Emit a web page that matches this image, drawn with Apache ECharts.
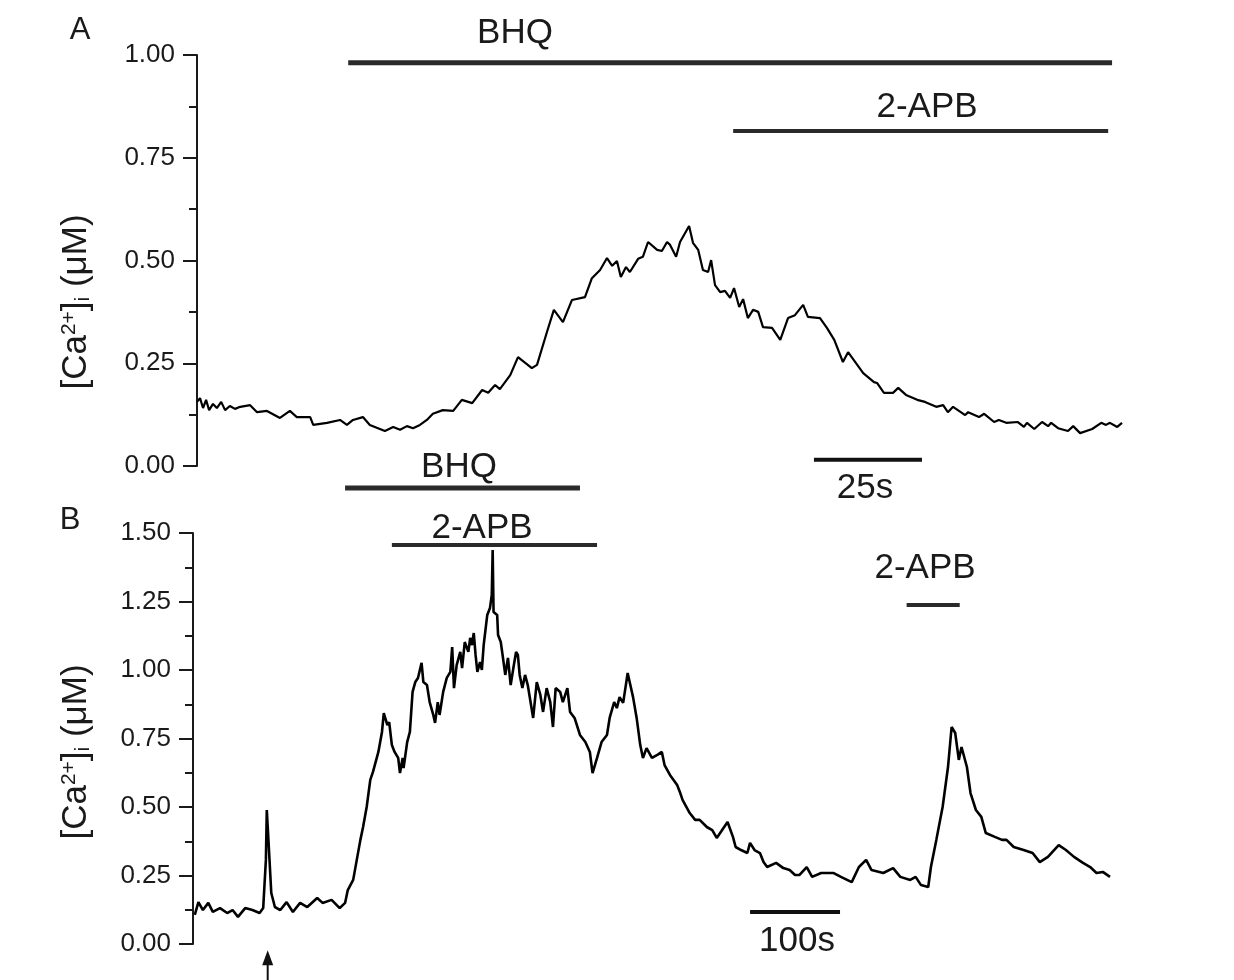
<!DOCTYPE html>
<html><head><meta charset="utf-8">
<script src="https://cdn.jsdelivr.net/npm/echarts@6/dist/echarts.min.js"></script>
<style>html,body{margin:0;padding:0;background:#fff}#c{width:1234px;height:980px}</style>
</head><body><div id="c"></div>
<script>
// ---------- Panel A data (time in s, [Ca2+]i in µM) ----------
const timeA = [0,0.7,1.4,2.1,2.8,3.7,4.6,5.6,6.5,7.6,8.8,10.0,12.3,13.9,16.2,19.2,21.5,23.1,26.2,26.9,30.1,33.1,34.7,36.1,38.4,40.0,43.5,45.4,47.0,48.6,50.0,51.6,53.2,54.6,56.9,59.3,61.3,63.7,66.0,67.4,69.0,70.1,72.5,74.3,77.5,78.7,81.0,82.6,84.7,86.8,89.8,91.4,93.3,94.9,96.1,97.2,98.1,99.3,100.2,102.1,103.2,104.4,106.5,107.6,108.8,109.5,110.9,111.8,113.9,114.8,116.0,117.1,118.3,119.0,119.9,121.1,122.2,123.4,124.3,125.5,126.4,127.5,128.7,129.9,131.0,133.1,135.0,136.8,138.4,140.3,141.4,144.2,145.8,147.5,149.5,150.7,154.2,156.7,157.4,159.0,161.1,162.3,164.1,166.7,168.5,171.1,172.7,173.8,175.0,177.8,178.5,181.0,182.2,184.5,185.6,187.3,190.0,191.4,192.1,193.8,195.6,197.0,197.7,199.3,201.6,202.8,204.4,207.2,209.3,210.4,211.3,213.0,214.1];
const caA = [0.156,0.165,0.141,0.161,0.136,0.151,0.141,0.156,0.136,0.146,0.139,0.144,0.148,0.131,0.134,0.117,0.134,0.119,0.119,0.100,0.105,0.112,0.100,0.112,0.119,0.100,0.085,0.095,0.088,0.097,0.092,0.100,0.112,0.127,0.136,0.134,0.161,0.153,0.185,0.178,0.197,0.187,0.221,0.265,0.238,0.246,0.326,0.380,0.350,0.404,0.411,0.457,0.477,0.506,0.487,0.499,0.460,0.484,0.472,0.504,0.509,0.545,0.526,0.523,0.545,0.538,0.509,0.545,0.584,0.543,0.526,0.477,0.472,0.501,0.440,0.423,0.426,0.409,0.433,0.387,0.406,0.360,0.380,0.375,0.338,0.336,0.307,0.360,0.367,0.392,0.363,0.360,0.336,0.307,0.253,0.277,0.226,0.204,0.202,0.178,0.178,0.190,0.173,0.161,0.156,0.144,0.148,0.131,0.144,0.124,0.131,0.119,0.127,0.107,0.112,0.105,0.107,0.095,0.105,0.090,0.107,0.097,0.105,0.092,0.085,0.097,0.080,0.090,0.105,0.100,0.105,0.095,0.105];

// ---------- Panel B data ----------
const timeB = [2,6,11,17,22,30,38,44,50,58,66,74,78,81,82,84,87,91,97,104,111,119,127,138,144,154,163,169,172,178,182,186,189,193,197,
  200,206,210,212,216,218,221,224,228,230,233,234,238,241,244,247,250,254,256,260,263,267,269,272,274,278,282,286,288,290,293,297,299,302,306,308,310,312,314,316,319,321,323,327,330,332,333,334,338,339,342,344,347,350,353,356,359,361,363,366,369,372,378,382,386,389,393,397,400,403,408,411,416,419,424,430,436,441,444,449,454,460,463,468,471,474,478,481,483,486,489,493,497,500,504,510,516,521,524,530,538,541,
  544,552,558,563,571,577,582,588,594,600,603,609,616,619,624,630,634,638,648,656,663,669,674,682,688,698,712,720,732,740,748,754,767,778,786,797,803,809,817,820,826,833,839,843,847,851,854,860,864,870,876,881,891,899,904,912,923,933,941,950,962,970,979,989,997,1004,1011,1019];
const caB = [0.106,0.153,0.124,0.150,0.117,0.131,0.113,0.124,0.099,0.131,0.124,0.113,0.131,0.307,0.489,0.369,0.186,0.135,0.124,0.153,0.117,0.150,0.135,0.168,0.150,0.161,0.131,0.150,0.197,0.234,0.307,0.380,0.427,0.500,0.599,
  0.628,0.701,0.774,0.843,0.799,0.810,0.726,0.701,0.679,0.624,0.679,0.642,0.737,0.774,0.920,0.956,0.971,1.026,0.956,0.945,0.883,0.836,0.807,0.883,0.836,0.920,0.971,0.993,1.084,0.934,1.018,1.066,1.007,1.102,1.066,1.117,1.091,1.135,1.055,0.993,1.029,1.000,1.091,1.201,1.226,1.274,1.438,1.212,1.201,1.128,1.102,1.055,0.982,1.044,0.945,1.007,1.066,1.055,0.982,0.934,0.982,0.945,0.825,0.956,0.909,0.847,0.934,0.883,0.792,0.934,0.920,0.883,0.934,0.847,0.825,0.763,0.737,0.701,0.624,0.679,0.737,0.763,0.825,0.883,0.861,0.901,0.880,0.945,0.989,0.945,0.901,0.825,0.726,0.679,0.715,0.679,0.690,0.701,0.653,0.617,0.580,0.555,
  0.526,0.478,0.453,0.453,0.427,0.416,0.387,0.416,0.445,0.391,0.354,0.343,0.332,0.369,0.343,0.332,0.299,0.281,0.296,0.277,0.270,0.252,0.252,0.281,0.245,0.259,0.259,0.245,0.226,0.281,0.307,0.270,0.259,0.277,0.245,0.234,0.245,0.215,0.208,0.281,0.380,0.500,0.646,0.792,0.770,0.672,0.719,0.646,0.551,0.489,0.464,0.405,0.391,0.380,0.380,0.354,0.343,0.332,0.299,0.318,0.361,0.343,0.318,0.296,0.281,0.259,0.263,0.245];

// ---------- tick labels ----------
const yTicksA = ['0.00','0.25','0.50','0.75','1.00'];
const yTicksB = ['0.00','0.25','0.50','0.75','1.00','1.25','1.50'];

// ---------- drug application periods (s) ----------
const drugsA = [{name:'BHQ', from:35.0, to:211.8},{name:'2-APB', from:124.1, to:210.9}];
const drugsB = [{name:'BHQ', from:169, to:430},{name:'2-APB', from:221, to:449},{name:'2-APB', from:793, to:852}];
const scaleBarA = {label:'25s', from:142.8, len:25};
const scaleBarB = {label:'100s', from:619, len:100};
const stimulusB = 83;

// ---------- layout ----------
const FONT = "'Liberation Sans', Arial, Helvetica, sans-serif";
const INK = '#1a1a1a';
const drugLevelA = [0.981, 0.815];
const drugLevelB = [1.664, 1.456, 1.237];
const drugWidthA = [5, 4];
const drugWidthB = [5, 4, 4];

function yAxisCfg(gridIndex, max, ticks){
  return {
    gridIndex, type:'value', min:0, max, interval:0.25,
    axisLine:{show:true, lineStyle:{color:INK, width:2}},
    axisTick:{show:true, inside:false, length:14, lineStyle:{color:INK, width:2}},
    minorTick:{show:true, splitNumber:2, length:8, lineStyle:{color:INK, width:2}},
    splitLine:{show:false}, minorSplitLine:{show:false},
    axisLabel:{margin:22, fontSize:26, color:INK, fontFamily:FONT,
      formatter:(v)=>ticks[Math.round(v/0.25)]}
  };
}
function xAxisCfg(gridIndex, max){
  return {gridIndex, type:'value', min:0, max, show:false};
}
function seg(xi, yi, data, width, extra){
  return Object.assign({type:'line', xAxisIndex:xi, yAxisIndex:yi, data, symbol:'none',
    clip:false, silent:true, animation:false,
    lineStyle:{color:'#2a2a2a', width, cap:'butt'}}, extra||{});
}

const series = [
  {type:'line', xAxisIndex:0, yAxisIndex:0, data:timeA.map((t,i)=>[t,caA[i]]), symbol:'none',
   lineStyle:{color:'#000', width:2.2}, animation:false},
  {type:'line', xAxisIndex:1, yAxisIndex:1, data:timeB.map((t,i)=>[t,caB[i]]), symbol:'none',
   lineStyle:{color:'#000', width:2.6}, animation:false}
];
drugsA.forEach((d,i)=>series.push(seg(0,0,[[d.from,drugLevelA[i]],[d.to,drugLevelA[i]]],drugWidthA[i])));
drugsB.forEach((d,i)=>series.push(seg(1,1,[[d.from,drugLevelB[i]],[d.to,drugLevelB[i]]],drugWidthB[i])));
series.push(seg(0,0,[[scaleBarA.from,0.015],[scaleBarA.from+scaleBarA.len,0.015]],4,{lineStyle:{color:'#111',width:4}}));
series.push(seg(1,1,[[scaleBarB.from,0.117],[scaleBarB.from+scaleBarB.len,0.117]],4,{lineStyle:{color:'#111',width:4}}));
// stimulus arrow
series.push(seg(1,1,[{value:[stimulusB,-0.135],symbol:'none'},{value:[stimulusB,-0.05],symbol:'triangle',symbolSize:[11,15]}],2,
  {symbol:'none', showSymbol:true, itemStyle:{color:'#111'}, lineStyle:{color:'#111',width:2}}));

function txt(x,y,s,size){
  return {type:'text', x, y, style:{text:s, fill:INK, font:`${size}px ${FONT}`, align:'center', verticalAlign:'middle'}};
}
function yTitle(x,y){
  return {type:'text', x, y, rotation:Math.PI/2,
    style:{text:'[Ca{sup|2+}]{sub|i} (μM)', fill:INK, font:`35px ${FONT}`, align:'center', verticalAlign:'middle',
      rich:{sup:{fontSize:21, fontFamily:FONT, fill:INK, verticalAlign:'top', lineHeight:35, padding:[0,0,16,0]},
            sub:{fontSize:21, fontFamily:FONT, fill:INK, verticalAlign:'bottom', lineHeight:35, padding:[16,0,0,0]}}}};
}

const chart = echarts.init(document.getElementById('c'), null, {renderer:'canvas'});
chart.setOption({
  backgroundColor:'#ffffff',
  animation:false,
  grid:[
    {left:197, top:55, width:925, height:411},
    {left:193, top:533, width:917, height:411}
  ],
  xAxis:[xAxisCfg(0,214.1), xAxisCfg(1,1019)],
  yAxis:[yAxisCfg(0,1,yTicksA), yAxisCfg(1,1.5,yTicksB)],
  series,
  graphic:[
    txt(80,30,'A',31), txt(70,520,'B',31),
    txt(515,33,drugsA[0].name,35), txt(927,107,drugsA[1].name,35),
    txt(865,488,scaleBarA.label,35),
    txt(459,467,drugsB[0].name,35), txt(482,528,drugsB[1].name,35), txt(925,568,drugsB[2].name,35),
    txt(797,941,scaleBarB.label,35),
    yTitle(76,302), yTitle(76,752)
  ]
});
</script></body></html>
